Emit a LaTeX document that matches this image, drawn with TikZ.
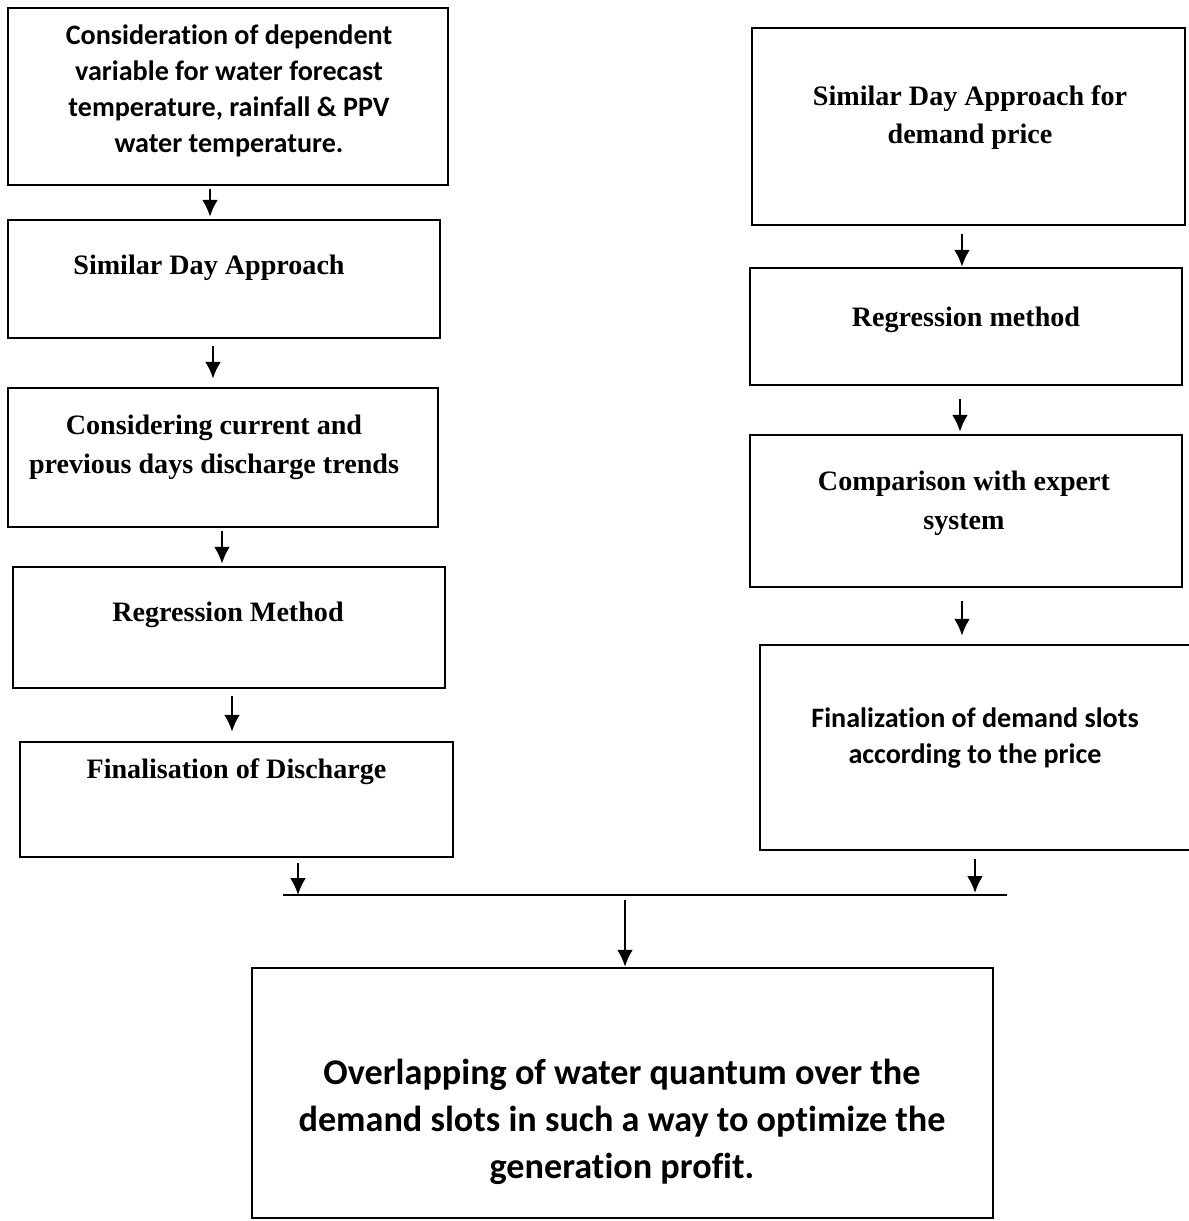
\documentclass[tikz,border=0pt]{standalone}
\usepackage{fontspec}
\usepackage{tikz}
\usetikzlibrary{calc}
\usetikzlibrary{arrows}
\usetikzlibrary{arrows.meta}
\usetikzlibrary{shapes}
\usetikzlibrary{positioning}
\newfontfamily\timesfont{Liberation Serif}
\newfontfamily\calfont{Carlito}[Ligatures = NoCommon]
\tikzset{>=latex}
\tikzstyle{box} = [rectangle, draw = black, line width = 1.4pt, inner sep = 0]
\tikzstyle{serif} = [draw = none, align = center, font = \timesfont\bfseries\fontsize{16}{22}\selectfont]
\tikzstyle{sans} = [draw = none, align = center, font = \calfont\bfseries\fontsize{16}{20.5}\selectfont]
\tikzstyle{big} = [draw = none, align = center, font = \calfont\bfseries\fontsize{20.6}{26.7}\selectfont]
\tikzstyle{arr} = [-{Latex[length = 3.4mm, width = 3.2mm]}, line width = 1.4pt]

\begin{document}
\begin{tikzpicture}[x = 0.02cm, y = -0.02cm]
\clip (0, 0) rectangle (1189, 1221);
% left column
\node [box, minimum width = 8.8cm, minimum height = 3.54cm] (L1) at (228, 96.5) {};
\node [box, minimum width = 8.64cm, minimum height = 2.36cm] (L2) at (224, 279) {};
\node [box, minimum width = 8.6cm, minimum height = 2.78cm] (L3) at (223, 457.5) {};
\node [box, minimum width = 8.64cm, minimum height = 2.42cm] (L4) at (229, 627.5) {};
\node [box, minimum width = 8.66cm, minimum height = 2.3cm] (L5) at (236.5, 799.5) {};
\node [sans] (tL1) at (229, 91) {Consideration of dependent\\variable for water forecast\\temperature, rainfall \& PPV\\water temperature.};
\node [serif] (tL2) at (209, 268) {Similar Day Approach};
\node [serif] (tL3) at (214, 447.5) {Considering current and\\previous days discharge trends};
\node [serif] (tL4) at (228, 615) {Regression Method};
\node [serif] (tL5) at (236.5, 772) {Finalisation of Discharge};
% right column
\node [box, minimum width = 8.66cm, minimum height = 3.94cm] (R1) at (968.5, 126.5) {};
\node [box, minimum width = 8.64cm, minimum height = 2.34cm] (R2) at (966, 326.5) {};
\node [box, minimum width = 8.64cm, minimum height = 3.04cm] (R3) at (966, 511) {};
\node [box, minimum width = 8.8cm, minimum height = 4.1cm] (R4) at (980, 747.5) {};
\node [serif] (tR1) at (970, 117.5) {Similar Day Approach for\\demand price};
\node [serif] (tR2) at (966, 320) {Regression method};
\node [serif] (tR3) at (964, 503) {Comparison with expert\\system};
\node [sans] (tR4) at (975, 738.5) {Finalization of demand slots\\according to the price};
% joint and result
\coordinate (J1) at (283, 895);
\coordinate (J2) at (1007, 895);
\node [box, minimum width = 14.82cm, minimum height = 5cm] (O) at (622.5, 1093) {};
\node [big] (tO) at (622, 1122) {Overlapping of water quantum over the\\demand slots in such a way to optimize the\\generation profit.};
\draw [line width = 1.4pt] (J1) -- (J2);
\draw [arr, shorten <= 0.6mm, shorten >= 0.4mm] (L1.south -| 210,0) -- (L2.north -| 210,0);
\draw [arr, shorten <= 1.4mm, shorten >= 1.6mm] (L2.south -| 213,0) -- (L3.north -| 213,0);
\draw [arr, shorten <= 0.6mm, shorten >= 0.4mm] (L3.south -| 222,0) -- (L4.north -| 222,0);
\draw [arr, shorten <= 1.4mm, shorten >= 1.8mm] (L4.south -| 232,0) -- (L5.north -| 232,0);
\draw [arr, shorten <= 1mm] (L5.south -| 298,0) -- (J1 -| 298,0);
\draw [arr, shorten <= 1.6mm] (R1.south -| 962,0) -- (R2.north -| 962,0);
\draw [arr, shorten <= 2.6mm, shorten >= 0.4mm] (R2.south -| 960,0) -- (R3.north -| 960,0);
\draw [arr, shorten <= 2.6mm, shorten >= 1.6mm] (R3.south -| 962,0) -- (R4.north -| 962,0);
\draw [arr, shorten <= 1.6mm, shorten >= 0.4mm] (R4.south -| 975,0) -- (J2 -| 975,0);
\draw [arr, shorten <= 1mm] (J1 -| 625,0) -- (O.north -| 625,0);
\end{tikzpicture}
\end{document}
